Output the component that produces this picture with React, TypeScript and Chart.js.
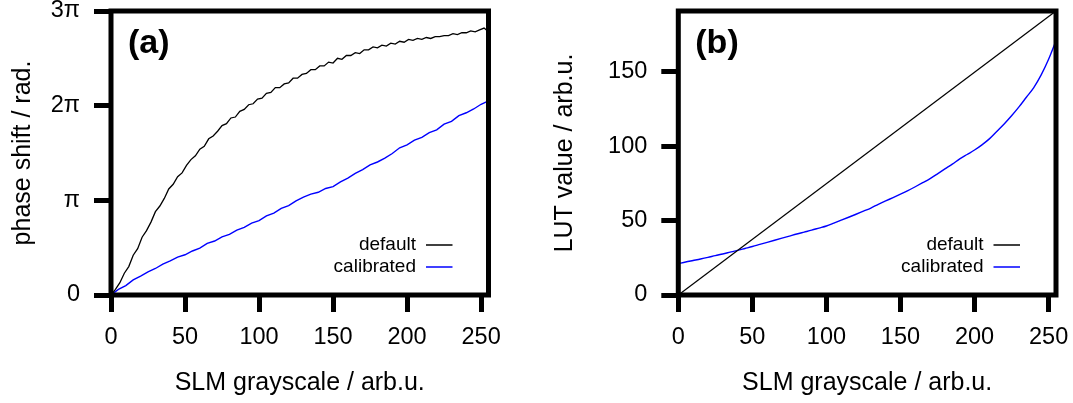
import React, { useEffect, useRef } from "react";
import { Chart, registerables } from "chart.js";

Chart.register(...registerables);

const FONT = "'Liberation Sans', Arial, Helvetica, sans-serif";

// ---------- shared axis ----------
const grayscaleTicks = [0, 50, 100, 150, 200, 250];

// ---------- panel (a): phase shift (units of π) ----------
const phaseTickValues = [0, 1, 2, 3];
const phaseTickLabels = ["0", "π", "2π", "3π"];

const phaseDefaultX = [
  0, 3, 6, 9, 12, 15, 18, 21, 24, 27, 30, 33, 36, 39, 42, 45, 48, 51, 54, 57,
  60, 63, 66, 69, 72, 75, 78, 81, 84, 87, 90, 93, 96, 99, 102, 105, 108, 111, 114, 117,
  120, 123, 126, 129, 132, 135, 138, 141, 144, 147, 150, 153, 156, 159, 162, 165, 168, 171, 174, 177,
  180, 183, 186, 189, 192, 195, 198, 201, 204, 207, 210, 213, 216, 219, 222, 225, 228, 231, 234, 237,
  240, 243, 246, 249, 252, 255,
];
const phaseDefault = [
  0.0, 0.06, 0.13, 0.23, 0.3, 0.42, 0.49, 0.61, 0.68, 0.77, 0.88, 0.94, 1.02, 1.12, 1.17, 1.25, 1.29, 1.37, 1.43, 1.47,
  1.54, 1.57, 1.65, 1.68, 1.73, 1.79, 1.81, 1.87, 1.88, 1.94, 1.96, 2.01, 2.02, 2.07, 2.08, 2.13, 2.14, 2.19, 2.19, 2.23,
  2.24, 2.29, 2.29, 2.33, 2.34, 2.38, 2.38, 2.42, 2.42, 2.46, 2.45, 2.5, 2.49, 2.53, 2.53, 2.56, 2.55, 2.59, 2.59, 2.62,
  2.61, 2.64, 2.63, 2.66, 2.65, 2.68, 2.67, 2.7, 2.69, 2.71, 2.7, 2.72, 2.71, 2.73, 2.73, 2.74, 2.74, 2.76, 2.75, 2.77,
  2.77, 2.79, 2.78, 2.8, 2.82, 2.78,
];

const phaseCalibratedX = [
  0, 5, 10, 15, 20, 25, 30, 35, 40, 45, 50, 55, 60, 65, 70, 75, 80, 85, 90, 95,
  100, 105, 110, 115, 120, 125, 130, 135, 140, 145, 150, 155, 160, 165, 170, 175, 180, 185, 190, 195,
  200, 205, 210, 215, 220, 225, 230, 235, 240, 245, 250, 255,
];
const phaseCalibrated = [
  0.0, 0.06, 0.1, 0.16, 0.2, 0.245, 0.28, 0.325, 0.36, 0.4, 0.425, 0.465, 0.495, 0.545, 0.57, 0.615, 0.64, 0.685, 0.715, 0.76,
  0.785, 0.835, 0.865, 0.915, 0.945, 0.995, 1.035, 1.065, 1.085, 1.125, 1.145, 1.195, 1.235, 1.285, 1.325, 1.375, 1.405, 1.445, 1.495, 1.555,
  1.585, 1.635, 1.665, 1.715, 1.745, 1.805, 1.835, 1.895, 1.925, 1.965, 2.015, 2.05,
];

// ---------- panel (b): LUT value ----------
const lutTickValues = [0, 50, 100, 150];
const lutMax = 191;

const lutDefaultX = [0, 255];
const lutDefault = [0, 191];

const lutCalibratedX = [
  0, 5, 10, 15, 20, 25, 30, 35, 40, 45, 50, 55, 60, 65, 70, 75, 80, 85, 90, 95,
  100, 105, 110, 115, 120, 125, 130, 135, 140, 145, 150, 155, 160, 165, 170, 175, 180, 185, 190, 195,
  200, 205, 210, 215, 220, 225, 230, 235, 240, 245, 250, 255,
];
const lutCalibrated = [
  21.0, 22.2, 23.2, 24.2, 25.3, 26.5, 27.6, 28.8, 30.0, 31.3, 32.6, 34.0, 35.4, 36.8, 38.2, 39.6, 41.0, 42.3, 43.6, 45.0,
  46.4, 48.3, 50.3, 52.3, 54.3, 56.4, 58.5, 61.0, 63.3, 65.5, 67.8, 70.2, 72.8, 75.5, 78.3, 81.5, 84.8, 88.0, 91.5, 94.5,
  97.5, 101.0, 105.0, 110.0, 115.0, 120.5, 126.5, 133.0, 139.5, 148.0, 158.5, 171.0,
];

const toPoints = (xs: number[], ys: number[]) => xs.map((x, i) => ({ x, y: ys[i] }));

const framePlugin = {
  id: "frame",
  afterDraw(chart: any, _args: any, opts: any) {
    const { ctx, chartArea: a } = chart;
    ctx.save();
    ctx.strokeStyle = "#000";
    ctx.lineWidth = 5;
    ctx.lineJoin = "miter";
    ctx.strokeRect(a.left, a.top, a.right - a.left, a.bottom - a.top);

    ctx.fillStyle = "#000";
    ctx.font = `bold 34px ${FONT}`;
    ctx.textAlign = "left";
    ctx.textBaseline = "alphabetic";
    ctx.fillText(opts.label, a.left + 17, a.top + 42);

    ctx.font = `19px ${FONT}`;
    ctx.textBaseline = "middle";
    ctx.textAlign = "right";
    chart.data.datasets.forEach((ds: any, i: number) => {
      const y = a.bottom - 50 + i * 22;
      ctx.fillStyle = "#000";
      ctx.fillText(ds.label, a.right - 72.5, y);
      ctx.strokeStyle = ds.borderColor;
      ctx.lineWidth = 1.5;
      ctx.beginPath();
      ctx.moveTo(a.right - 62.5, y);
      ctx.lineTo(a.right - 36, y);
      ctx.stroke();
    });
    ctx.restore();
  },
};

type PanelCfg = {
  label: string;
  yTitle: string;
  yWidth: number;
  rightPad: number;
  yTitlePad: number;
  yMax: number;
  yTicks: number[];
  yLabel: (v: number) => string;
  datasets: any[];
};

function makeConfig(c: PanelCfg): any {
  const tickGrid = {
    drawOnChartArea: false,
    drawTicks: true,
    tickLength: 17,
    tickWidth: 5,
    tickColor: "#000",
    lineWidth: 5,
    color: "#000",
  };
  return {
    type: "line",
    data: { datasets: c.datasets },
    plugins: [framePlugin],
    options: {
      responsive: false,
      animation: false,
      devicePixelRatio: 1,
      layout: { padding: { left: 0, top: 11, right: c.rightPad, bottom: 0 } },
      elements: { point: { radius: 0 }, line: { tension: 0 } },
      plugins: {
        legend: { display: false },
        tooltip: { enabled: false },
        frame: { label: c.label },
      },
      scales: {
        x: {
          type: "linear",
          min: 0,
          max: 255,
          afterBuildTicks: (s: any) => {
            s.ticks = grayscaleTicks.map((v) => ({ value: v }));
          },
          afterFit: (s: any) => {
            s.height = 108;
            s.paddingLeft = 0;
            s.paddingRight = 0;
          },
          grid: tickGrid,
          border: { display: false },
          ticks: {
            color: "#000",
            font: { size: 23.5, family: FONT },
            padding: 11,
            maxRotation: 0,
            autoSkip: false,
            callback: (v: number) => String(v),
          },
          title: {
            display: true,
            text: "SLM grayscale / arb.u.",
            color: "#000",
            font: { size: 25, family: FONT },
            padding: { top: 0, bottom: 5 },
          },
        },
        y: {
          type: "linear",
          min: 0,
          max: c.yMax,
          afterBuildTicks: (s: any) => {
            s.ticks = c.yTicks.map((v) => ({ value: v }));
          },
          afterFit: (s: any) => {
            s.width = c.yWidth;
            s.paddingTop = 0;
            s.paddingBottom = 0;
          },
          grid: tickGrid,
          border: { display: false },
          ticks: {
            color: "#000",
            font: { size: 23.5, family: FONT },
            padding: 14,
            autoSkip: false,
            callback: (v: number) => c.yLabel(v),
          },
          title: {
            display: true,
            text: c.yTitle,
            color: "#000",
            font: { size: 25, family: FONT },
            padding: { top: c.yTitlePad, bottom: 0 },
          },
        },
      },
    },
  };
}

function Panel({ left, width, cfg }: { left: number; width: number; cfg: () => any }) {
  const ref = useRef<HTMLCanvasElement>(null);
  useEffect(() => {
    const chart = new Chart(ref.current as HTMLCanvasElement, cfg());
    return () => chart.destroy();
  }, []);
  return (
    <canvas
      ref={ref}
      width={width}
      height={403}
      style={{ position: "absolute", left, top: 0, width, height: 403 }}
    />
  );
}

const panelA = () =>
  makeConfig({
    label: "(a)",
    yTitle: "phase shift / rad.",
    yWidth: 111,
    rightPad: 540 - 488.5,
    yTitlePad: 8,
    yMax: 3,
    yTicks: phaseTickValues,
    yLabel: (v) => phaseTickLabels[phaseTickValues.indexOf(v)] ?? "",
    datasets: [
      {
        label: "default",
        data: toPoints(phaseDefaultX, phaseDefault),
        borderColor: "#000000",
        borderWidth: 1.3,
        fill: false,
      },
      {
        label: "calibrated",
        data: toPoints(phaseCalibratedX, phaseCalibrated),
        borderColor: "#0000ff",
        borderWidth: 1.4,
        fill: false,
      },
    ],
  });

const panelB = () =>
  makeConfig({
    label: "(b)",
    yTitle: "LUT value / arb.u.",
    yWidth: 678.3 - 540,
    rightPad: 533 - (1056 - 540),
    yTitlePad: 10,
    yMax: lutMax,
    yTicks: lutTickValues,
    yLabel: (v) => String(v),
    datasets: [
      {
        label: "default",
        data: toPoints(lutDefaultX, lutDefault),
        borderColor: "#000000",
        borderWidth: 1.3,
        fill: false,
      },
      {
        label: "calibrated",
        data: toPoints(lutCalibratedX, lutCalibrated),
        borderColor: "#0000ff",
        borderWidth: 1.4,
        fill: false,
        cubicInterpolationMode: "monotone",
      },
    ],
  });

export default function App() {
  return (
    <div
      style={{
        position: "fixed",
        left: 0,
        top: 0,
        width: 1073,
        height: 403,
        background: "#ffffff",
        overflow: "hidden",
      }}
    >
      <Panel left={0} width={540} cfg={panelA} />
      <Panel left={540} width={533} cfg={panelB} />
    </div>
  );
}
